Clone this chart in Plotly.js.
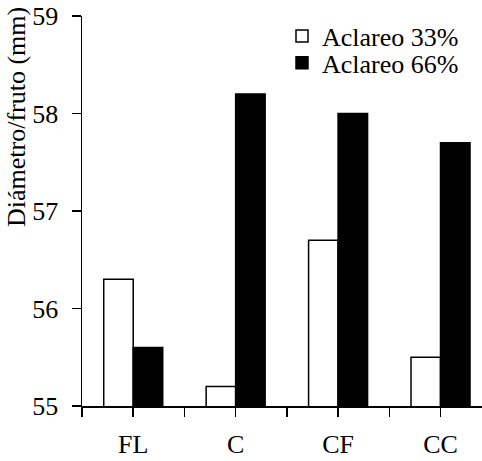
<!DOCTYPE html>
<html>
<head>
<meta charset="utf-8">
<script src="https://cdn.plot.ly/plotly-3.0.1.min.js"></script>
<style>
  html, body { margin: 0; padding: 0; background: #fff; }
  #chart { width: 482px; height: 461px; }
</style>
</head>
<body>
<div id="chart"></div>
<script>
// Tratamientos
const categories = ['FL', 'C', 'CF', 'CC'];
// Diámetro medio por fruto (mm)
const aclareo33 = [56.3, 55.2, 56.7, 55.5];
const aclareo66 = [55.6, 58.2, 58.0, 57.7];
const seriesNames = ['Aclareo 33%', 'Aclareo 66%'];
const yTicks = [55, 56, 57, 58, 59];

const FONT = '"Liberation Serif", "Times New Roman", serif';
const xIdx = categories.map((_, i) => i);

// ticks at each category and at the boundaries between them
const xTickVals = [];
const xTickText = [];
categories.forEach((c, i) => {
  xTickVals.push(i - 0.5, i);
  xTickText.push('', c);
});
xTickVals.push(categories.length - 0.5);
xTickText.push('');

const traces = [
  {
    type: 'bar', name: seriesNames[0], x: xIdx, y: aclareo33,
    marker: { color: '#ffffff', line: { color: '#000000', width: 1.5 } },
    legend: 'legend'
  },
  {
    type: 'bar', name: seriesNames[1], x: xIdx, y: aclareo66,
    marker: { color: '#000000', line: { color: '#000000', width: 1.5 } },
    legend: 'legend2'
  }
];

const legendCommon = {
  xanchor: 'left', yanchor: 'top',
  font: { family: FONT, size: 26, color: '#000' },
  bgcolor: 'rgba(0,0,0,0)', borderwidth: 0,
  itemclick: false, itemdoubleclick: false
};

const layout = {
  width: 482, height: 461,
  margin: { l: 82, r: 0, t: 16, b: 55 },
  paper_bgcolor: '#fff', plot_bgcolor: '#fff',
  font: { family: FONT, size: 26, color: '#000' },
  barmode: 'group', bargap: 0.424, bargroupgap: 0,
  showlegend: true,
  legend: Object.assign({ x: 0.5, y: 1.009 }, legendCommon),
  legend2: Object.assign({ x: 0.5, y: 0.94 }, legendCommon),
  xaxis: {
    type: 'linear', range: [-0.5, 3.405],
    tickmode: 'array', tickvals: xTickVals, ticktext: xTickText,
    ticks: 'outside', ticklen: 9, tickwidth: 1.5, tickcolor: '#000',
    ticklabelstandoff: 5,
    showline: true, linecolor: '#000', linewidth: 1.5,
    showgrid: false, zeroline: false,
    tickfont: { family: FONT, size: 26, color: '#000' }
  },
  yaxis: {
    range: [55, 59],
    tickmode: 'array', tickvals: yTicks, ticktext: yTicks.map(String),
    ticks: 'outside', ticklen: 9, tickwidth: 1.5, tickcolor: '#000',
    ticklabelstandoff: 8,
    showline: true, linecolor: '#000', linewidth: 1.5,
    showgrid: false, zeroline: false,
    tickfont: { family: FONT, size: 26, color: '#000' }
  },
  annotations: [{
    text: 'Diámetro/fruto (mm)',
    xref: 'paper', yref: 'paper', x: -0.165, y: 0.741,
    xanchor: 'center', yanchor: 'middle', textangle: -90,
    showarrow: false,
    font: { family: FONT, size: 26, color: '#000' }
  }]
};

Plotly.newPlot('chart', traces, layout, { displayModeBar: false, staticPlot: true });
</script>
</body>
</html>
